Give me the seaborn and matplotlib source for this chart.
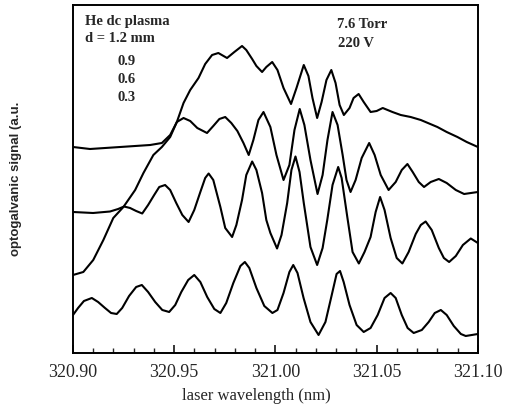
import pandas as pd
import seaborn as sns
import matplotlib.pyplot as plt

# optogalvanic spectra of He dc plasma, 4 electrode gaps (traces offset, a.u.)
d_labels = ['1.2', '0.9', '0.6', '0.3']

wl_12 = [320.9000, 320.9084, 320.9233, 320.9381, 320.9439, 320.9480, 320.9513, 320.9546,
         320.9579, 320.9620, 320.9653, 320.9687, 320.9718, 320.9761, 320.9797, 320.9835,
         320.9856, 320.9885, 320.9906, 320.9934, 320.9955, 320.9984, 321.0010, 321.0040,
         321.0077, 321.0104, 321.0140, 321.0163, 321.0183, 321.0206, 321.0228, 321.0252,
         321.0276, 321.0297, 321.0317, 321.0338, 321.0366, 321.0386, 321.0411, 321.0436,
         321.0470, 321.0500, 321.0530, 321.0578, 321.0619, 321.0668, 321.0718, 321.0800,
         321.0846, 321.0899, 321.0945, 321.1000]
sig_12 = [206, 204, 206, 208, 210, 218, 231, 250,
          263, 275, 289, 298, 300, 295, 301, 307,
          303, 294, 287, 281, 286, 291, 283, 265,
          249, 265, 288, 277, 255, 235, 251, 273,
          283, 270, 248, 238, 245, 255, 259, 251,
          241, 242, 245, 241, 238, 236, 233, 226,
          221, 216, 211, 206]

wl_09 = [320.9000, 320.9051, 320.9100, 320.9150, 320.9199, 320.9249, 320.9307, 320.9348,
         320.9397, 320.9439, 320.9480, 320.9513, 320.9546, 320.9579, 320.9614, 320.9662,
         320.9693, 320.9723, 320.9752, 320.9782, 320.9812, 320.9842, 320.9868, 320.9891,
         320.9916, 320.9941, 320.9975, 321.0005, 321.0040, 321.0069, 321.0094, 321.0120,
         321.0143, 321.0173, 321.0208, 321.0233, 321.0257, 321.0282, 321.0307, 321.0332,
         321.0351, 321.0371, 321.0396, 321.0426, 321.0463, 321.0490, 321.0520, 321.0559,
         321.0594, 321.0624, 321.0652, 321.0678, 321.0708, 321.0734, 321.0767, 321.0807,
         321.0846, 321.0891, 321.0932, 321.1000]
sig_09 = [78, 81, 93, 113, 135, 146, 163, 180,
          198, 206, 216, 231, 235, 232, 225, 220,
          227, 234, 236, 230, 222, 210, 198, 213,
          233, 241, 226, 198, 173, 188, 223, 244,
          228, 193, 159, 178, 213, 241, 228, 198,
          173, 161, 173, 195, 210, 198, 178, 163,
          171, 183, 189, 181, 171, 166, 171, 174,
          170, 163, 159, 161]

wl_06 = [320.9000, 320.9099, 320.9183, 320.9223, 320.9252, 320.9282, 320.9312, 320.9342,
         320.9371, 320.9401, 320.9426, 320.9455, 320.9480, 320.9510, 320.9540, 320.9571,
         320.9599, 320.9629, 320.9653, 320.9670, 320.9693, 320.9728, 320.9752, 320.9786,
         320.9807, 320.9835, 320.9856, 320.9885, 320.9906, 320.9934, 320.9955, 320.9975,
         321.0008, 321.0030, 321.0058, 321.0079, 321.0099, 321.0119, 321.0140, 321.0173,
         321.0206, 321.0233, 321.0256, 321.0282, 321.0310, 321.0327, 321.0355, 321.0381,
         321.0412, 321.0440, 321.0470, 321.0495, 321.0517, 321.0539, 321.0569, 321.0599,
         321.0627, 321.0658, 321.0693, 321.0718, 321.0742, 321.0772, 321.0807, 321.0832,
         321.0858, 321.0891, 321.0926, 321.0965, 321.1000]
sig_06 = [141, 140, 141.5, 144, 146.5, 145, 142, 139.5,
          148, 158, 166, 168, 163, 150, 138, 131,
          143, 161, 175, 179.5, 173, 146, 125, 116,
          128, 153, 178, 191.5, 183, 160, 133, 120,
          104.5, 118, 150, 183, 196.5, 181, 150, 106,
          88, 105, 133, 168, 186, 175, 136, 101,
          89.5, 101, 116, 141, 156, 143, 115, 95,
          89.5, 101, 119, 128, 131.5, 123, 105, 95,
          91, 97, 108, 114.5, 110]

wl_03 = [320.9000, 320.9025, 320.9054, 320.9093, 320.9124, 320.9158, 320.9188, 320.9216,
         320.9243, 320.9277, 320.9312, 320.9340, 320.9371, 320.9406, 320.9441, 320.9475,
         320.9505, 320.9535, 320.9569, 320.9599, 320.9629, 320.9663, 320.9698, 320.9728,
         320.9757, 320.9792, 320.9827, 320.9849, 320.9871, 320.9906, 320.9945, 320.9985,
         321.0010, 321.0040, 321.0069, 321.0088, 321.0109, 321.0139, 321.0173, 321.0213,
         321.0247, 321.0277, 321.0302, 321.0319, 321.0337, 321.0366, 321.0401, 321.0436,
         321.0470, 321.0505, 321.0539, 321.0569, 321.0594, 321.0624, 321.0653, 321.0683,
         321.0723, 321.0757, 321.0787, 321.0817, 321.0846, 321.0881, 321.0916, 321.0940,
         321.0970, 321.1000]
sig_03 = [38, 45, 52, 55, 51, 45, 40, 39,
          45, 57, 66, 68, 61, 51, 43, 41,
          48, 61, 73, 78, 71, 56, 44, 40,
          50, 70, 87, 91, 85, 65, 47, 40,
          43, 60, 81, 88, 80, 55, 31, 18,
          31, 57, 79, 82, 71, 48, 28, 21,
          25, 38, 55, 60, 55, 38, 25, 20,
          23, 31, 40, 43, 38, 27, 19, 17,
          18, 19]

xticks = [320.90, 320.95, 321.00, 321.05, 321.10]
xtick_labels = ['320.90', '320.95', '321.00', '321.05', '321.10']

# long form table for seaborn
frames = []
for d, wl, sig in zip(d_labels, [wl_12, wl_09, wl_06, wl_03], [sig_12, sig_09, sig_06, sig_03]):
    frames.append(pd.DataFrame({'wavelength': wl, 'signal': sig, 'd': d}))
df = pd.concat(frames, ignore_index=True)

sns.set_style('ticks')
plt.rcParams['font.family'] = ['Liberation Serif', 'DejaVu Serif']

fig = plt.figure(figsize=(5.08, 4.17), dpi=100)
ax = fig.add_axes([0.1437, 0.1535, 0.797, 0.8345])

sns.lineplot(data=df, x='wavelength', y='signal', hue='d', palette=['black'] * 4,
             estimator=None, sort=False, legend=False, linewidth=1.5, ax=ax)

ax.set_xlim(320.90, 321.10)
ax.set_ylim(0, 348)
ax.set_xticks(xticks)
ax.set_xticklabels(xtick_labels, fontsize=13)
ax.set_xticks([320.90 + 0.01 * i for i in range(21)], minor=True)
ax.set_yticks([])
ax.tick_params(axis='x', which='major', direction='in', length=6, width=1.3, pad=8)
ax.tick_params(axis='x', which='minor', direction='in', length=3.5, width=1.0)
for sp in ax.spines.values():
    sp.set_linewidth(1.4)
    sp.set_color('black')

ax.set_xlabel('laser wavelength (nm)', fontsize=12)
ax.xaxis.set_label_coords(0.454, -0.10)
ax.set_ylabel('optogalvanic signal (a.u.', fontsize=9.5, fontweight='bold',
              family=['Liberation Sans', 'DejaVu Sans'])
ax.yaxis.set_label_coords(-0.126, 0.50)

kw = dict(transform=ax.transAxes, fontsize=10.5, fontweight='bold', va='baseline')
ax.text(0.030, 0.943, 'He dc plasma', **kw)
ax.text(0.030, 0.894, 'd = 1.2 mm', **kw)
ax.text(0.111, 0.828, '0.9', **kw)
ax.text(0.111, 0.776, '0.6', **kw)
ax.text(0.111, 0.724, '0.3', **kw)
ax.text(0.652, 0.934, '7.6 Torr', **kw)
ax.text(0.654, 0.879, '220 V', **kw)

plt.savefig('out.png', dpi=100)
